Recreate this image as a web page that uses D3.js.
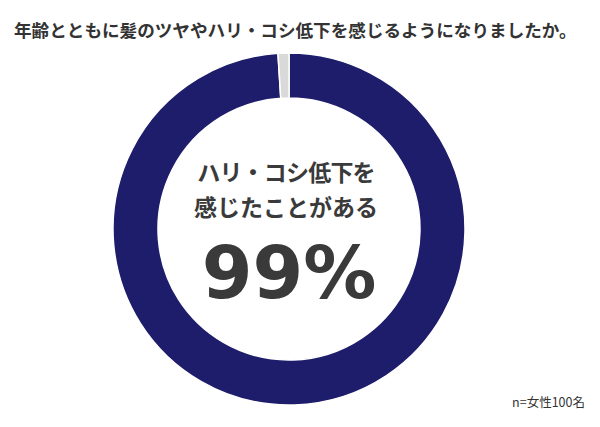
<!DOCTYPE html>
<html>
<head>
<meta charset="utf-8">
<script src="https://cdn.jsdelivr.net/npm/d3@7"></script>
<style>
  body { margin: 0; background: #fff; }
  svg { display: block; font-family: "Noto Sans CJK JP", "Noto Sans", sans-serif; }
</style>
</head>
<body>
<svg width="600" height="427"></svg>
<script>
const svg = d3.select("svg"),
      width = +svg.attr("width"),
      height = +svg.attr("height");

// data
const categories = ["ハリ・コシ低下を感じたことがある", "感じたことがない"];
const values = [99, 1];
const sliceColors = ["#1d1d6c", "#d9d9d9"];
const titleText = "年齢とともに髪のツヤやハリ・コシ低下を感じるようになりましたか。";
const centerLines = ["ハリ・コシ低下を", "感じたことがある"];
const centerValue = "99%";
const noteText = "n=女性100名";

const cx = 289, cy = 229,
      outerR = 176, innerR = 131;

// title
svg.append("text")
  .attr("x", 14)
  .attr("y", 37)
  .attr("font-size", 17.6)
  .attr("font-weight", "bold")
  .attr("fill", "#333")
  .text(titleText);

const pie = d3.pie().sort(null).value(d => d)
const arc = d3.arc().innerRadius(innerR).outerRadius(outerR)

const g = svg.append("g").attr("transform", `translate(${cx},${cy})`)

g.selectAll("path")
  .data(pie(values)).enter().append("path")
  .attr("d", arc)
  .attr("fill", (d, i) => sliceColors[i])
  .attr("stroke", "#fff")
  .attr("stroke-width", 1.5)

// centre label
g.selectAll(".centerLine")
  .data(centerLines).enter().append("text")
  .attr("class", "centerLine")
  .attr("x", -3)
  .attr("y", (d, i) => -48 + i * 35)
  .attr("text-anchor", "middle")
  .attr("font-size", 23)
  .attr("font-weight", "bold")
  .attr("letter-spacing", (d, i) => i == 0 ? -0.8 : 0)
  .attr("fill", "#3a3a3a")
  .text(d => d)

g.append("text")
  .attr("x", 0)
  .attr("y", 69)
  .attr("text-anchor", "middle")
  .attr("font-family", "'DejaVu Sans', sans-serif")
  .attr("font-size", 73)
  .attr("font-weight", "bold")
  .attr("fill", "#3a3a3a")
  .text(centerValue)

// sample note
svg.append("text")
  .attr("x", 585)
  .attr("y", 407)
  .attr("text-anchor", "end")
  .attr("font-size", 12.5)
  .attr("fill", "#333")
  .text(noteText)
</script>
</body>
</html>
